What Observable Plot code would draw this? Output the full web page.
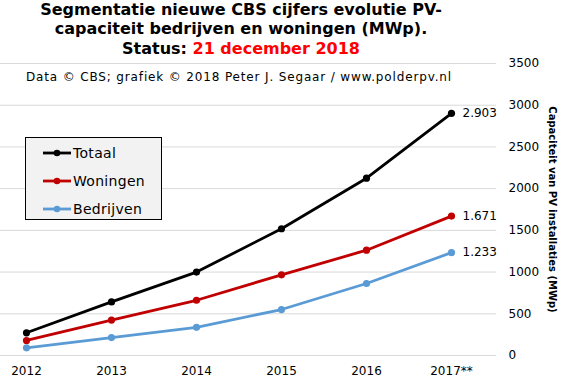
<!DOCTYPE html>
<html>
<head>
<meta charset="utf-8">
<script src="https://cdn.jsdelivr.net/npm/d3@7"></script>
<script src="https://cdn.jsdelivr.net/npm/@observablehq/plot@0.6"></script>
<style>
  html, body { margin: 0; padding: 0; background: #fff; }
  #wrap { position: relative; width: 566px; height: 381px; overflow: hidden; font-family: "DejaVu Sans", sans-serif; }
  #title { position: absolute; left: 0; top: 0; width: 482px; text-align: center; font-weight: bold; font-size: 16px; line-height: 19.3px; color: #000; }
  #title .red { color: #ff0000; }
  #caption { position: absolute; left: 26px; top: 70px; font-size: 12px; letter-spacing: 0.85px; color: #000; white-space: nowrap; }
  #legend { position: absolute; left: 25px; top: 137px; width: 137px; height: 83px; background: #f2f2f2; border: 1px solid #000; box-sizing: border-box; }
  #legend .row { position: absolute; left: 0; height: 20px; display: flex; align-items: center; }
  #legend .row span { font-size: 14px; margin-left: 2px; letter-spacing: 0.3px; }
  #chart { position: absolute; left: 0; top: 0; }
</style>
</head>
<body>
<div id="wrap">
  <div id="chart"></div>
  <div id="title">Segmentatie nieuwe CBS cijfers evolutie PV-<br>capaciteit bedrijven en woningen (MWp).<br>Status: <span class="red">21 december 2018</span></div>
  <div id="caption">Data © CBS; grafiek © 2018 Peter J. Segaar / www.polderpv.nl</div>
  <div id="legend"></div>
</div>
<script>
const years = ["2012", "2013", "2014", "2015", "2016", "2017**"];
const totaal = [272, 642, 1000, 1519, 2125, 2903];
const woningen = [180, 425, 662, 967, 1262, 1671];
const bedrijven = [92, 215, 338, 551, 863, 1233];
const seriesNames = ["Totaal", "Woningen", "Bedrijven"];
const seriesColors = ["#000000", "#c00000", "#5b9bd5"];
const yTicks = [0, 500, 1000, 1500, 2000, 2500, 3000, 3500];
const yLabel = "Capaciteit van PV installaties (MWp)";

const seriesValues = [totaal, woningen, bedrijven];
const rows = [];
seriesNames.forEach((name, si) => {
  years.forEach((yr, i) => rows.push({series: name, year: yr, value: seriesValues[si][i], last: i === years.length - 1}));
});
const nl = d3.formatLocale({decimal: ",", thousands: ".", grouping: [3], currency: ["€", ""]});
const fmt = nl.format(",d");

const plot = Plot.plot({
  width: 566,
  height: 381,
  marginTop: 63,
  marginBottom: 26,
  marginLeft: 0,
  marginRight: 70,
  style: {fontFamily: "DejaVu Sans, sans-serif", fontSize: "12px", color: "#000", background: "transparent"},
  x: {type: "point", domain: years, range: [25, 452], padding: 0, label: null},
  y: {domain: [0, 3500], label: null},
  color: {domain: seriesNames, range: seriesColors},
  marks: [
    Plot.ruleY(yTicks, {stroke: "#d9d9d9", strokeWidth: 1}),
    Plot.axisX({tickSize: 0, tickPadding: 11, fontSize: 12}),
    Plot.axisY({anchor: "right", ticks: yTicks, tickSize: 0, tickPadding: 12, fontSize: 12, tickFormat: d => String(d)}),
    Plot.line(rows, {x: "year", y: "value", z: "series", stroke: "series", strokeWidth: 2.8}),
    Plot.dot(rows, {x: "year", y: "value", fill: "series", r: 3.6}),
    Plot.text(rows.filter(d => d.last), {x: "year", y: "value", text: d => fmt(d.value), dx: 11, textAnchor: "start", fontSize: 12}),
    Plot.text([yLabel], {frameAnchor: "right", textAnchor: "middle", dx: 56, rotate: 90, text: d => d, fontWeight: "bold", fontSize: 10, fontFamily: "DejaVu Sans"})
  ]
});
document.getElementById("chart").appendChild(plot);

// legend
const legend = document.getElementById("legend");
seriesNames.forEach((name, i) => {
  const row = document.createElement("div");
  row.className = "row";
  row.style.top = (5 + i * 28) + "px";
  row.style.left = "17px";
  row.innerHTML = `<svg width="28" height="20"><line x1="0" y1="10" x2="28" y2="10" stroke="${seriesColors[i]}" stroke-width="2.8"/><circle cx="14" cy="10" r="3.3" fill="${seriesColors[i]}"/></svg><span>${name}</span>`;
  legend.appendChild(row);
});
</script>
</body>
</html>
